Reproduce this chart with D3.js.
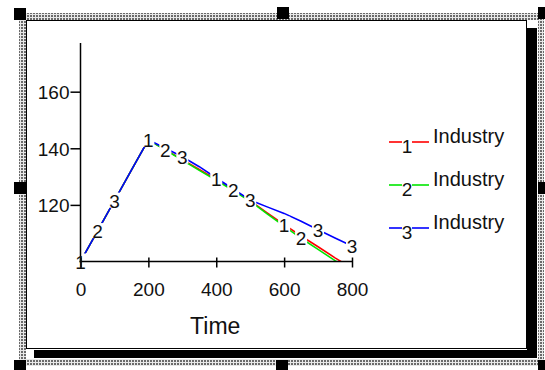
<!DOCTYPE html>
<html>
<head>
<meta charset="utf-8">
<script src="https://cdn.jsdelivr.net/npm/d3@7"></script>
<style>
  html, body { margin: 0; padding: 0; background: #ffffff; }
  svg { display: block; }
  text { font-family: "Liberation Sans", Arial, sans-serif; fill: #111; }
</style>
</head>
<body>
<svg id="chart" width="545" height="370"></svg>
<script>
// ---- data ----
const timeValues = [0, 50, 100, 150, 200, 250, 300, 350, 400, 450, 500, 550, 600, 650, 700, 750, 800];
const industry1 = [100, 110.75, 121.5, 132.25, 143, 139.5, 136, 132.5, 129, 125.3, 121.5, 117.2, 113, 109, 105.2, 101.3, 97.6];
const industry2 = [100, 110.75, 121.5, 132.25, 143, 139.4, 135.8, 132.2, 128.7, 125.1, 121.3, 116.8, 112.5, 108.2, 104.3, 100.3, 96.5];
const industry3 = [100, 110.75, 121.5, 132.25, 143, 140, 137, 133.5, 129.5, 125.6, 121.7, 119.3, 117, 114.2, 111.2, 108.3, 105.5];
const seriesLabels = ["1", "2", "3"];
const legendNames = ["Industry", "Industry", "Industry"];
const seriesColors = ["#ff0000", "#00e600", "#0000ff"];
const labelIndices = [[0, 4, 8, 12], [1, 5, 9, 13], [2, 6, 10, 14, 16]];
const xTicks = [0, 200, 400, 600, 800];
const yTicks = [120, 140, 160];
const xTitle = "Time";

const svg = d3.select("#chart");

// ---- frame (selection-style hatched border, box, shadow, handles) ----
const defs = svg.append("defs");
const pat = defs.append("pattern").attr("id", "hatch").attr("patternUnits", "userSpaceOnUse")
  .attr("width", 3).attr("height", 3);
pat.append("rect").attr("width", 3).attr("height", 3).attr("fill", "#e8e8e8");
pat.append("rect").attr("width", 2).attr("height", 2).attr("fill", "#6a6a6a");

svg.append("rect").attr("x", 19).attr("y", 13).attr("width", 525).attr("height", 353).attr("fill", "url(#hatch)");
svg.append("rect").attr("x", 26).attr("y", 20).attr("width", 512).attr("height", 339).attr("fill", "#ffffff");
// shadow
svg.append("rect").attr("x", 527).attr("y", 28).attr("width", 10).attr("height", 330).attr("fill", "#000");
svg.append("rect").attr("x", 34).attr("y", 350).attr("width", 503).attr("height", 8).attr("fill", "#000");
// box
svg.append("rect").attr("x", 26.5).attr("y", 20.5).attr("width", 500).attr("height", 328)
  .attr("fill", "#fff").attr("stroke", "#000").attr("stroke-width", 1);
// handles
const handles = [[14, 8], [277, 7], [538, 7], [14, 182], [538, 182], [14, 360], [276, 360], [538, 360]];
svg.selectAll("rect.handle").data(handles).enter().append("rect").attr("class", "handle")
  .attr("x", d => d[0]).attr("y", d => d[1]).attr("width", 12).attr("height", 12).attr("fill", "#000");

// ---- scales ----
const x = d3.scaleLinear().domain([0, 800]).range([80.5, 352]);
const y = d3.scaleLinear().domain([100, 177.2]).range([261.5, 43]);

// ---- lines ----
const allSeries = [industry1, industry2, industry3];
defs.append("clipPath").attr("id", "plotclip").append("rect")
  .attr("x", 75).attr("y", 30).attr("width", 300).attr("height", y(100) - 30);

const line = d3.line().x((d, i) => x(timeValues[i])).y(d => y(d));
const gLines = svg.append("g").attr("clip-path", "url(#plotclip)");
allSeries.forEach((s, k) => {
  gLines.append("path").datum(s).attr("d", line)
    .attr("fill", "none").attr("stroke", seriesColors[k]).attr("stroke-width", 1.6);
});

// label knockouts
const labelFont = 19;
const labels = [];
allSeries.forEach((s, k) => {
  labelIndices[k].forEach(i => labels.push({ k, xv: timeValues[i], yv: s[i] }));
});
svg.selectAll("rect.ko").data(labels).enter().append("rect").attr("class", "ko")
  .attr("x", d => x(d.xv) - 6).attr("y", d => y(d.yv) - 8)
  .attr("width", 12).attr("height", 15).attr("fill", "#fff");

// ---- axes ----
const xAxis = d3.axisBottom(x).tickValues(xTicks).tickSize(5).tickSizeInner(5).tickPadding(17).tickSizeOuter(0);
const gx = svg.append("g").attr("transform", `translate(0,${y(100)})`).call(xAxis);
gx.select(".domain").attr("stroke", "#000").attr("stroke-width", 1.5).attr("d", `M${x(0) - 1},0H${x(800) + 1}`);
gx.selectAll(".tick line").attr("y1", -4).attr("y2", 6).attr("stroke", "#000").attr("stroke-width", 1.5);
gx.selectAll(".tick text").attr("font-size", 19).attr("font-family", "Liberation Sans, Arial, sans-serif")
  .attr("fill", "#111").attr("dy", "0.71em").attr("y", 21);

const yAxis = d3.axisLeft(y).tickValues(yTicks).tickSize(10).tickPadding(1).tickSizeOuter(0);
const gy = svg.append("g").attr("transform", `translate(${x(0)},0)`).call(yAxis);
gy.select(".domain").attr("stroke", "#000").attr("stroke-width", 1.5).attr("d", `M0,43V${y(100) + 1}`);
gy.selectAll(".tick line").attr("stroke", "#000").attr("stroke-width", 1.5);
gy.selectAll(".tick text").attr("font-size", 19).attr("font-family", "Liberation Sans, Arial, sans-serif")
  .attr("fill", "#111").attr("dy", "0.36em");

// ---- series digit labels ----
svg.selectAll("text.plab").data(labels).enter().append("text").attr("class", "plab")
  .attr("x", d => x(d.xv)).attr("y", d => y(d.yv) + 7)
  .attr("text-anchor", "middle").attr("font-size", labelFont).text(d => seriesLabels[d.k]);

// ---- axis title ----
svg.append("text").attr("x", (x(0) + x(800)) / 2 - 1).attr("y", 334)
  .attr("text-anchor", "middle").attr("font-size", 23).text(xTitle);

// ---- legend ----
const legY = d3.scalePoint().domain(seriesLabels).range([142, 228]);
const leg = svg.selectAll("g.leg").data(seriesLabels).enter().append("g").attr("class", "leg")
  .attr("transform", d => `translate(0,${legY(d)})`);
leg.append("line").attr("x1", 389).attr("x2", 402).attr("y1", 0).attr("y2", 0)
  .attr("stroke", (d, i) => seriesColors[i]).attr("stroke-width", 1.6);
leg.append("line").attr("x1", 412).attr("x2", 429).attr("y1", 0).attr("y2", 0)
  .attr("stroke", (d, i) => seriesColors[i]).attr("stroke-width", 1.6);
leg.append("text").attr("x", 407).attr("y", 11).attr("text-anchor", "middle")
  .attr("font-size", labelFont).text(d => d);
leg.append("text").attr("x", 433).attr("y", 1).attr("font-size", 20).text((d, i) => legendNames[i]);
</script>
</body>
</html>
